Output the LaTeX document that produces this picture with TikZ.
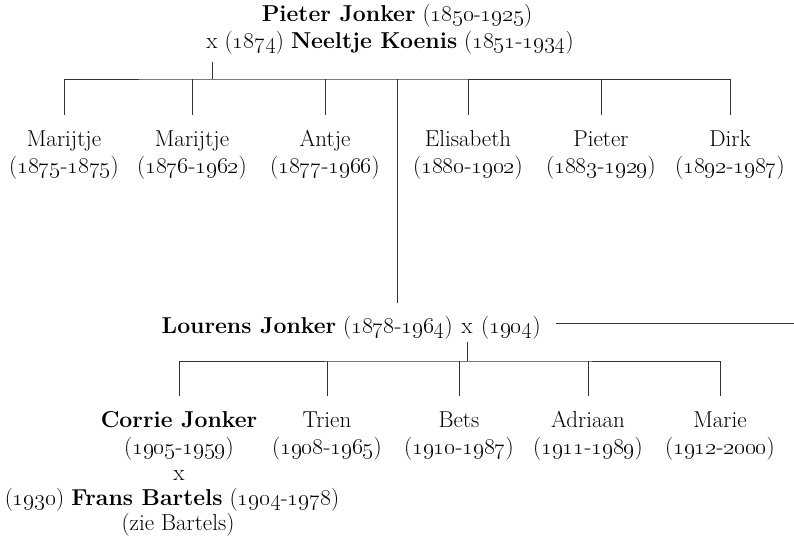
\RequirePackage{fix-cm}
\documentclass[tikz,border=0pt]{standalone}
\usetikzlibrary{positioning}
\newcommand{\yr}[1]{\oldstylenums{#1}}
\newcommand{\jaren}[2]{(\yr{#1}-\yr{#2})}
\begin{document}
\begin{tikzpicture}[x=1pt,y=-1pt,line width=.9pt,draw=black!80,node distance=7.7pt,
  every node/.style={font=\fontsize{23}{27}\selectfont,inner sep=0pt},
  kid/.style={anchor=north,align=center,outer ysep=15.5pt}]
\useasboundingbox (0,0) rectangle (794,544);
% ouders
\node[anchor=base] (pieter) at (397,21) {\textbf{Pieter Jonker} \jaren{1850}{1925}};
\node[anchor=base west] (neeltje) at (206,48) {x (\yr{1874}) \textbf{Neeltje Koenis} \jaren{1851}{1934}};
\coordinate (hub1) at (212,62);
% kinderen
\node[kid] (marijtje1) at (64,115) {Marijtje\\\jaren{1875}{1875}};
\node[kid] (marijtje2) at (192,115) {Marijtje\\\jaren{1876}{1962}};
\node[kid] (antje) at (325,115) {Antje\\\jaren{1877}{1966}};
\node[kid] (elisabeth) at (468,115) {Elisabeth\\\jaren{1880}{1902}};
\node[kid] (pieter2) at (601,115) {Pieter\\\jaren{1883}{1929}};
\node[kid] (dirk) at (730,115) {Dirk\\\jaren{1892}{1987}};
\coordinate (lhub) at (397,303);
\draw (hub1) -- ++(0,17) coordinate (bar1);
\draw (marijtje1.north) |- (bar1) -| (dirk.north);
\foreach \k in {marijtje2,antje,elisabeth,pieter2} \draw (\k.north) -- (\k.north|-bar1);
\draw (lhub) -- (lhub|-bar1);
% Lourens
\node[anchor=base,outer ysep=9pt] (lx) at (467,333) {x};
\node[base left=of lx] (lourens) {\textbf{Lourens Jonker} \jaren{1878}{1964}};
\node[base right=of lx] (lyear) {(\yr{1904})};
\coordinate (spouse) at (794,323);
\draw (lyear.east|-spouse) ++(15,0) -- (spouse);
\node[kid] (corrie) at (179,396) {\textbf{Corrie Jonker}\\\jaren{1905}{1959}};
\node[kid] (trien) at (327,396) {Trien\\\jaren{1908}{1965}};
\node[kid] (bets) at (459,396) {Bets\\\jaren{1910}{1987}};
\node[kid] (adriaan) at (588,396) {Adriaan\\\jaren{1911}{1989}};
\node[kid] (marie) at (720,396) {Marie\\\jaren{1912}{2000}};
\draw (lx.south) -- ++(0,19) coordinate (bar2);
\draw (corrie.north) |- (bar2) -| (marie.north);
\foreach \k in {trien,bets,adriaan} \draw (\k.north) -- (\k.north|-bar2);
% Corrie x Frans
\node[anchor=base] (cx) at (179,480) {x};
\node[anchor=base] (frans) at (172,505) {(\yr{1930}) \textbf{Frans Bartels} \jaren{1904}{1978}};
\node[anchor=base] (zie) at (178,530) {(zie Bartels)};
\end{tikzpicture}
\end{document}
